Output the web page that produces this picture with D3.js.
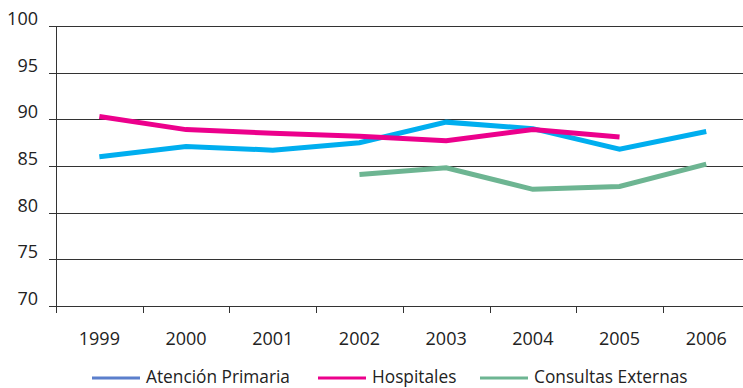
<!DOCTYPE html>
<html><head><meta charset="utf-8">
<script src="https://cdn.jsdelivr.net/npm/d3@7"></script>
<style>body{margin:0;background:#fff}svg{display:block;font-family:"Open Sans",sans-serif}</style>
</head><body><svg id="c" width="743" height="388"></svg>
<script>
const years = ["1999","2000","2001","2002","2003","2004","2005","2006"];
const yTicks = [70,75,80,85,90,95,100];
const atencionPrimaria = [86.0,87.1,86.7,87.5,89.7,89.0,86.8,88.7];
const hospitales = [90.3,88.9,88.5,88.2,87.7,88.9,88.1,null];
const consultasExternas = [null,null,null,84.1,84.8,82.5,82.8,85.2];
const seriesNames = ["Atención Primaria","Hospitales","Consultas Externas"];
const lineColors = ["#00AEEF","#EC008C","#6DB592"];
const legendColors = ["#5B7FCC","#EC008C","#6DB592"];

const svg = d3.select("#c");
const x = d3.scaleBand().domain(years).range([56, 749.6]);
const y = d3.scaleLinear().domain([70,100]).range([306, 26]);

svg.append("g").selectAll("line").data(yTicks).join("line")
  .attr("x1",49).attr("x2",743)
  .attr("y1",d=>Math.round(y(d))+0.5).attr("y2",d=>Math.round(y(d))+0.5)
  .attr("stroke","#333").attr("stroke-width",1);
svg.append("g").selectAll("text").data(yTicks).join("text")
  .attr("x",38).attr("y",d=>y(d)-1).attr("text-anchor","end")
  .attr("font-size",18).attr("fill","#222").text(d=>d);
svg.append("line").attr("x1",56.5).attr("x2",56.5).attr("y1",26).attr("y2",313)
  .attr("stroke","#333");
const xb = years.map(d=>x(d)).concat([x(years[years.length-1])+x.bandwidth()]);
svg.append("g").selectAll("line").data(xb).join("line")
  .attr("x1",d=>Math.round(d)+0.5).attr("x2",d=>Math.round(d)+0.5)
  .attr("y1",306).attr("y2",313).attr("stroke","#333");
svg.append("g").selectAll("text").data(years).join("text")
  .attr("x",d=>x(d)+x.bandwidth()/2).attr("y",345).attr("text-anchor","middle")
  .attr("font-size",18).attr("fill","#222").text(d=>d);

const line = d3.line().defined(d=>d!=null)
  .x((d,i)=>x(years[i])+x.bandwidth()/2).y(d=>y(d));
const all=[atencionPrimaria,hospitales,consultasExternas];
[2,0,1].forEach(i=>{
  svg.append("path").attr("d",line(all[i])).attr("fill","none")
    .attr("stroke",lineColors[i]).attr("stroke-width",5);
});

const legX = [92,318,480];
const lg = svg.append("g");
seriesNames.forEach((n,i)=>{
  lg.append("line").attr("x1",legX[i]).attr("x2",legX[i]+48).attr("y1",378).attr("y2",378)
    .attr("stroke",legendColors[i]).attr("stroke-width",3);
  lg.append("text").attr("x",legX[i]+54).attr("y",383).attr("font-size",17.3)
    .attr("fill","#222").text(n);
});
</script></body></html>
